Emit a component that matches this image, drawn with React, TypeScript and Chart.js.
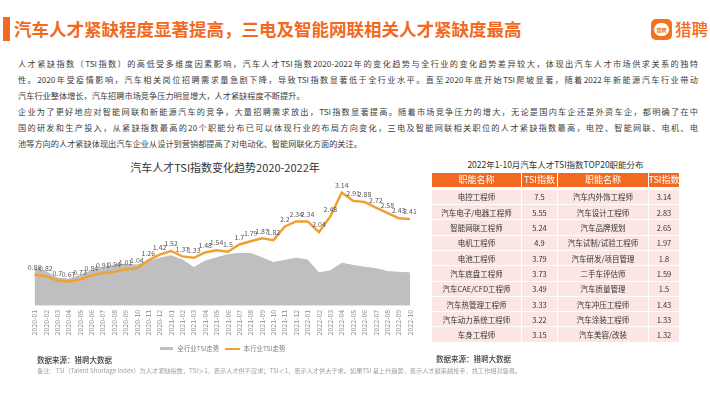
import React, { useEffect, useRef } from 'react';
import { Chart, registerables } from 'chart.js';

Chart.register(...registerables);

const months = [
  '2020-01', '2020-02', '2020-03', '2020-04', '2020-05', '2020-06', '2020-07', '2020-08', '2020-09', '2020-10', '2020-11', '2020-12',
  '2021-01', '2021-02', '2021-03', '2021-04', '2021-05', '2021-06', '2021-07', '2021-08', '2021-09', '2021-10', '2021-11', '2021-12',
  '2022-01', '2022-02', '2022-03', '2022-04', '2022-05', '2022-06', '2022-07', '2022-08', '2022-09', '2022-10',
];

const industryTSI = [
  1.03, 0.95, 0.77, 0.74, 0.84, 0.97, 1.06, 1.12, 1.15, 1.13, 1.23, 1.32,
  1.39, 1.27, 1.06, 1.24, 1.33, 1.42, 1.45, 1.45, 1.33, 1.2, 1.26, 1.32,
  1.27, 0.91, 0.97, 1.18, 1.12, 1.07, 1.03, 0.95, 0.93, 0.91,
];

const autoTSI = [
  0.86, 0.82, 0.7, 0.67, 0.73, 0.84, 0.91, 0.94, 1.01, 1.04, 1.26, 1.42,
  1.52, 1.37, 1.33, 1.48, 1.54, 1.5, 1.7, 1.79, 1.87, 1.82, 2.2, 2.34,
  2.34, 2.04, 2.48, 3.14, 2.91, 2.88, 2.72, 2.58, 2.43, 2.41,
];

const seriesNames = ['全行业TSI走势', '本行业TSI走势'];

const tableHeaders = ['职能名称', 'TSI指数', '职能名称', 'TSI指数'];
const leftRoles = ['电控工程师', '汽车电子/电器工程师', '智能网联工程师', '电机工程师', '电池工程师', '汽车底盘工程师', '汽车CAE/CFD工程师', '汽车热管理工程师', '汽车动力系统工程师', '车身工程师'];
const leftValues = ['7.5', '5.55', '5.24', '4.9', '3.79', '3.73', '3.49', '3.33', '3.22', '3.15'];
const rightRoles = ['汽车内外饰工程师', '汽车设计工程师', '汽车品牌规划', '汽车试制/试验工程师', '汽车研发/项目管理', '二手车评估师', '汽车质量管理', '汽车冲压工程师', '汽车涂装工程师', '汽车美容/改装'];
const rightValues = ['3.14', '2.83', '2.65', '1.97', '1.8', '1.59', '1.5', '1.43', '1.33', '1.32'];

const paragraphLines: [string, boolean][] = [
  ['人才紧缺指数（TSI指数）的高低受多维度因素影响，汽车人才TSI指数2020-2022年的变化趋势与全行业的变化趋势差异较大，体现出汽车人才市场供求关系的独特', true],
  ['性。2020年受疫情影响，汽车相关岗位招聘需求量急剧下降，导致TSI指数显著低于全行业水平。直至2020年底开始TSI爬坡显著，随着2022年新能源汽车行业带动', true],
  ['汽车行业整体增长，汽车招聘市场竞争压力明显增大，人才紧缺程度不断提升。', false],
  ['企业为了更好地应对智能网联和新能源汽车的竞争，大量招聘需求放出，TSI指数显著提高。随着市场竞争压力的增大，无论是国内车企还是外资车企，都明确了在中', true],
  ['国的研发和生产投入，从紧缺指数最高的20个职能分布已可以体现行业的布局方向变化，三电及智能网联相关职位的人才紧缺指数最高，电控、智能网联、电机、电', true],
  ['池等方向的人才紧缺体现出汽车企业从设计到营销都提高了对电动化、智能网联化方面的关注。', false],
];

const ORANGE = '#F26A21';
const LINE_ORANGE = '#F0A033';
const GRAY = '#BFBFBF';
const PINK = '#FCE6E4';
const FONT = "'Noto Sans CJK SC', 'Noto Sans', sans-serif";

const valueLabelPlugin = {
  id: 'valueLabels',
  afterDatasetsDraw(chart: any) {
    const meta = chart.getDatasetMeta(1);
    const ctx = chart.ctx;
    ctx.save();
    ctx.font = `7px ${FONT}`;
    ctx.fillStyle = '#595959';
    ctx.textAlign = 'center';
    ctx.textBaseline = 'bottom';
    meta.data.forEach((pt: any, i: number) => {
      ctx.fillText(String(autoTSI[i]), pt.x, pt.y - 4);
    });
    ctx.restore();
  },
};

function makeIcon(w: number, h: number, color: string) {
  const c = document.createElement('canvas');
  c.width = w;
  c.height = h;
  const x = c.getContext('2d')!;
  x.fillStyle = color;
  x.fillRect(0, 0, w, h);
  return c;
}

function TSIChart() {
  const ref = useRef<HTMLCanvasElement>(null);
  useEffect(() => {
    const icons = [makeIcon(13, 3, GRAY), makeIcon(15, 2, LINE_ORANGE)];
    const chart = new Chart(ref.current!, {
      type: 'line',
      data: {
        labels: months,
        datasets: [
          {
            label: seriesNames[0],
            data: industryTSI,
            fill: 'origin',
            backgroundColor: GRAY,
            borderColor: GRAY,
            borderWidth: 1,
            pointRadius: 0,
            tension: 0,
            order: 2,
          },
          {
            label: seriesNames[1],
            data: autoTSI,
            fill: false,
            borderColor: LINE_ORANGE,
            borderWidth: 2.5,
            pointRadius: 0,
            tension: 0,
            order: 1,
          },
        ],
      },
      options: {
        animation: false,
        responsive: false,
        maintainAspectRatio: false,
        layout: { padding: { left: 14.5, right: 14, top: 0, bottom: 0 } },
        scales: {
          x: {
            offset: false,
            grid: { display: false, drawTicks: false },
            border: { display: false },
            ticks: {
              autoSkip: false,
              maxRotation: 90,
              minRotation: 90,
              padding: 4,
              color: '#8c8c8c',
              font: { size: 7, family: FONT },
            },
          },
          y: { display: false, min: 0, max: 3.6 },
        },
        plugins: {
          legend: {
            position: 'bottom',
            labels: {
              usePointStyle: true,
              pointStyleWidth: 15,
              padding: 6,
              color: '#7f7f7f',
              font: { size: 6.5, family: FONT },
              generateLabels: (c: any) =>
                c.data.datasets.map((ds: any, i: number) => ({
                  text: ds.label,
                  pointStyle: icons[i],
                  fillStyle: 'rgba(0,0,0,0)',
                  strokeStyle: 'rgba(0,0,0,0)',
                  lineWidth: 0,
                  hidden: false,
                  datasetIndex: i,
                  fontColor: '#7f7f7f',
                })),
              sort: (a: any, b: any) => a.datasetIndex - b.datasetIndex,
            },
          },
          tooltip: { enabled: false },
        },
      },
      plugins: [valueLabelPlugin],
    } as any);
    return () => chart.destroy();
  }, []);
  return (
    <canvas
      ref={ref}
      width={404}
      height={186}
      style={{ position: 'absolute', left: 20, top: 176, width: 404, height: 186 }}
    />
  );
}

export default function App() {
  const cellBase: React.CSSProperties = {
    display: 'flex',
    alignItems: 'center',
    justifyContent: 'center',
    whiteSpace: 'nowrap',
  };
  const headerCell: React.CSSProperties = {
    ...cellBase,
    background: ORANGE,
    color: '#fff',
    fontSize: 9,
    height: 14,
    marginBottom: 2.3,
  };
  const bodyCell: React.CSSProperties = {
    ...cellBase,
    background: PINK,
    color: '#333',
    fontSize: 7.5,
    height: 14.3,
  };
  return (
    <div
      style={{
        position: 'absolute',
        left: 0,
        top: 0,
        width: 710,
        height: 399,
        background: '#fff',
        overflow: 'hidden',
        fontFamily: FONT,
      }}
    >
      <div style={{ position: 'absolute', left: 3, top: 17, width: 7, height: 24, background: ORANGE }} />
      <div style={{ position: 'absolute', left: 14, top: 17, fontSize: 17.5, lineHeight: '24px', color: ORANGE, fontWeight: 700, whiteSpace: 'nowrap' }}>
        汽车人才紧缺程度显著提高，三电及智能网联相关人才紧缺度最高
      </div>
      <div style={{ position: 'absolute', left: 651, top: 19, width: 21, height: 21, borderRadius: 5, background: '#F5731E' }}>
        <div style={{ position: 'absolute', left: 3, top: 3.5, width: 15, height: 13, borderRadius: 7, background: '#fff', color: '#F5731E', fontSize: 5, lineHeight: '13px', textAlign: 'center', fontWeight: 700 }}>猎聘</div>
      </div>
      <div style={{ position: 'absolute', left: 675, top: 17, fontSize: 16.5, lineHeight: '24px', color: ORANGE, fontWeight: 500, whiteSpace: 'nowrap' }}>
        猎聘
      </div>

      <div style={{ position: 'absolute', left: 18, top: 55, width: 680, fontSize: 8.2, lineHeight: '16px', color: '#404040' }}>
        {paragraphLines.map(([t, full], i) => (
          <div key={i} style={{ whiteSpace: 'nowrap', textAlign: full ? 'justify' : 'left', textAlignLast: full ? 'justify' : 'left' } as React.CSSProperties}>
            {t}
          </div>
        ))}
      </div>

      <div style={{ position: 'absolute', left: 20, top: 159, width: 410, textAlign: 'center', fontSize: 11, lineHeight: '16px', color: '#333' }}>
        汽车人才TSI指数变化趋势2020-2022年
      </div>
      <TSIChart />

      <div style={{ position: 'absolute', left: 37, top: 354, fontSize: 7.5, lineHeight: '12px', color: '#404040', fontWeight: 500 }}>
        数据来源：猎聘大数据
      </div>
      <div style={{ position: 'absolute', left: 37, top: 366, fontSize: 6.2, lineHeight: '9px', color: '#a0a0a0', whiteSpace: 'nowrap' }}>
        备注：TSI（Talent Shortage Index）为人才紧缺指数，TSI＞1，表示人才供不应求；TSI＜1，表示人才供大于求。如果TSI 呈上升趋势，表示人才越来越抢手，找工作相对容易。
      </div>

      <div style={{ position: 'absolute', left: 432, top: 158, width: 247, textAlign: 'center', fontSize: 8.5, lineHeight: '12px', color: '#333', whiteSpace: 'nowrap' }}>
        2022年1-10月汽车人才TSI指数TOP20职能分布
      </div>
      <div
        style={{
          position: 'absolute',
          left: 432,
          top: 172.5,
          display: 'grid',
          gridTemplateColumns: '89px 35px 90px 30px',
          columnGap: 1,
          rowGap: 1,
        }}
      >
        {tableHeaders.map((h, i) => (
          <div key={'h' + i} style={headerCell}>{h}</div>
        ))}
        {leftRoles.map((r, i) => (
          <React.Fragment key={'r' + i}>
            <div style={bodyCell}>{r}</div>
            <div style={bodyCell}>{leftValues[i]}</div>
            <div style={bodyCell}>{rightRoles[i]}</div>
            <div style={bodyCell}>{rightValues[i]}</div>
          </React.Fragment>
        ))}
      </div>
      <div style={{ position: 'absolute', left: 436, top: 353, fontSize: 7.5, lineHeight: '12px', color: '#404040', fontWeight: 500 }}>
        数据来源：猎聘大数据
      </div>
    </div>
  );
}
